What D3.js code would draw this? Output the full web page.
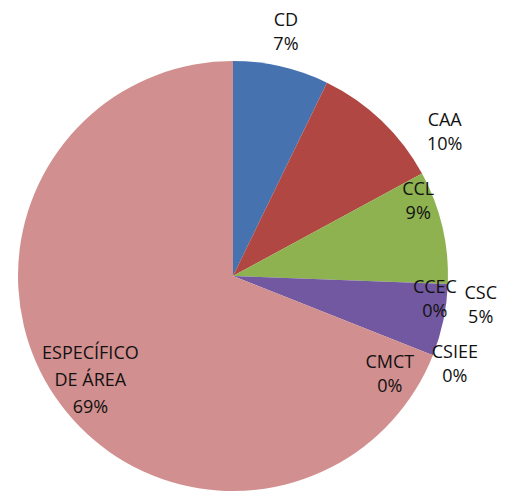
<!DOCTYPE html>
<html><head><meta charset="utf-8">
<script src="https://cdn.jsdelivr.net/npm/d3@7"></script>
<style>html,body{margin:0;padding:0;background:#fff;}</style>
</head><body>
<svg id="chart" width="507" height="492"></svg>
<script>
const categories = ["CD", "CAA", "CCL", "CCEC", "CSC", "CSIEE", "CMCT", "ESPECÍFICO DE ÁREA"];
const values = [7.2, 9.9, 8.5, 0, 5.4, 0, 0, 69.0];
const percentLabels = ["7%", "10%", "9%", "0%", "5%", "0%", "0%", "69%"];
const colors = ["#4673af", "#b04743", "#8db24f", "#4bacc6", "#7158a0", "#f79646", "#2c4d75", "#d28f8f"];
const nameLines = [["CD"], ["CAA"], ["CCL"], ["CCEC"], ["CSC"], ["CSIEE"], ["CMCT"], ["ESPECÍFICO", "DE ÁREA"]];
// label layout: angle offset (deg) from slice mid-angle, radius factor
const labelShift = [-0.7, 12.1, -9, 4.3, -5.2, 0, 10.4, -1.8];
const labelRadius = [1.16, 1.19, 0.93, 0.945, 1.16, 1.11, 0.86, 0.82];

const cx = 233, cy = 276, R = 215;
const svg = d3.select("#chart");
const g = svg.append("g").attr("transform", `translate(${cx},${cy})`);
const pie = d3.pie().sort(null).value(d => d);
const arcs = pie(values);
const arc = d3.arc().innerRadius(0).outerRadius(R);

g.selectAll("path").data(arcs.filter(d => d.value > 0)).enter().append("path")
  .attr("d", arc)
  .attr("fill", d => colors[d.index]);

const lineH = 24;
arcs.forEach((a, i) => {
  const mid = (a.startAngle + a.endAngle) / 2 + labelShift[i] * Math.PI / 180;
  const r = R * labelRadius[i];
  const x = Math.sin(mid) * r, y = -Math.cos(mid) * r;
  const lines = nameLines[i].concat([percentLabels[i]]);
  const lh = i === 7 ? 27 : lineH;
  const t = g.append("text")
    .attr("text-anchor", "middle")
    .attr("font-family", "'Open Sans', sans-serif")
    .attr("font-size", 18)
    .attr("fill", "#111");
  lines.forEach((ln, k) => {
    t.append("tspan").attr("x", x)
      .attr("y", y + (k - (lines.length - 1) / 2) * lh + 6)
      .text(ln);
  });
});
</script>
</body></html>
